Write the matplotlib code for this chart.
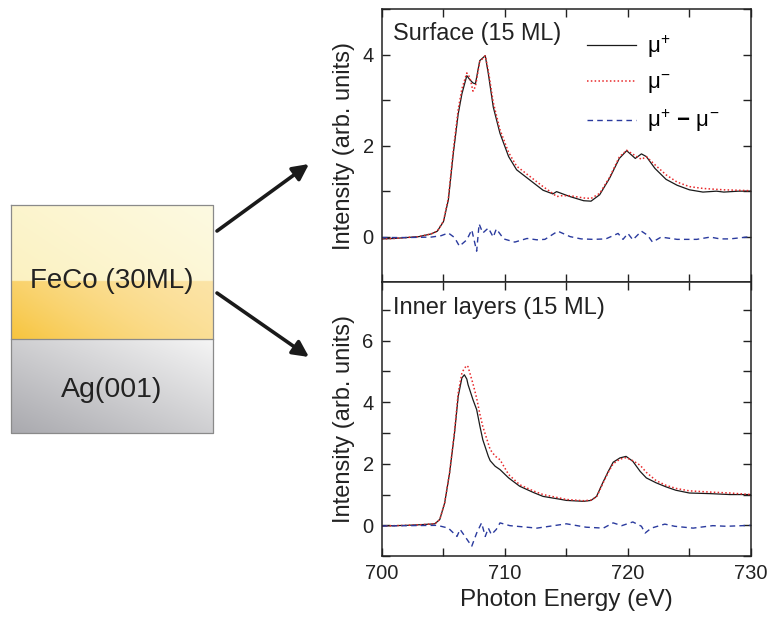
import numpy as np
import matplotlib
matplotlib.use("Agg")
import matplotlib.pyplot as plt
from matplotlib.ticker import MultipleLocator

plt.rcParams['font.family'] = ['Liberation Sans', 'DejaVu Sans']
plt.rcParams['mathtext.fontset'] = 'custom'
plt.rcParams['mathtext.rm'] = 'Liberation Sans'
plt.rcParams['mathtext.it'] = 'Liberation Sans'
plt.rcParams['mathtext.bf'] = 'Liberation Sans:bold'

# ---- data ----
# surface (15 ML)
e_top = [700, 701, 702, 703, 704, 704.5, 705, 705.4, 705.8, 706.2, 706.5, 706.9,
         707.15, 707.4, 707.6, 707.95, 708.4, 708.65, 709.05, 709.6, 710.3, 710.95,
         712.0, 713.1, 713.9, 714.2, 714.6, 715.3, 716.4, 717.0, 717.7, 718.5, 719.3,
         719.9, 720.6, 721.1, 721.5, 722.2, 723.1, 724.0, 725.0, 726.1, 727.2, 727.8,
         729.0, 730.0]
mu_plus_top = [-0.05, -0.04, -0.02, 0.0, 0.06, 0.12, 0.33, 0.81, 1.83, 2.7, 3.14, 3.54,
               3.45, 3.38, 3.36, 3.87, 3.98, 3.58, 2.85, 2.27, 1.76, 1.47,
               1.25, 1.02, 0.94, 0.99, 0.95, 0.88, 0.79, 0.78, 0.92, 1.28, 1.72,
               1.89, 1.72, 1.82, 1.76, 1.5, 1.26, 1.13, 1.03, 0.98, 1.0, 0.98,
               1.0, 1.0]
mu_minus_top = [-0.05, -0.04, -0.02, 0.0, 0.06, 0.12, 0.34, 0.85, 1.9, 2.8, 3.25, 3.6,
                3.5, 3.2, 3.3, 3.85, 3.98, 3.65, 2.95, 2.35, 1.85, 1.55,
                1.33, 1.1, 0.95, 0.88, 0.9, 0.9, 0.85, 0.84, 0.95, 1.3, 1.75,
                1.9, 1.78, 1.7, 1.76, 1.58, 1.36, 1.2, 1.1, 1.06, 1.04, 1.03,
                1.02, 1.01]
e_top_diff = [700, 702, 704, 704.8, 705.4, 705.9, 706.3, 706.9, 707.3, 707.7, 707.9,
              708.2, 708.65, 709.05, 709.3, 709.9, 710.8, 711.8, 712.6, 713.25, 714.3,
              715.3, 716.2, 717.2, 718.2, 719.2, 719.6, 720.0, 720.4, 721.1, 721.6,
              722.0, 722.7, 724.0, 725.6, 726.7, 727.5, 728.3, 730]
diff_top = [-0.02, -0.02, -0.01, 0.02, 0.08, -0.02, -0.21, -0.07, 0.15, -0.32, 0.28,
            0.08, 0.19, -0.01, 0.17, -0.05, -0.12, -0.04, -0.07, -0.06, 0.12,
            0.0, -0.05, -0.06, -0.05, 0.07, -0.06, 0.07, -0.07, 0.12, 0.03,
            -0.12, -0.01, -0.06, -0.06, -0.01, -0.05, -0.05, 0.0]

# inner layers (15 ML)
e_bot = [700, 702, 703.1, 704.3, 704.7, 705.1, 705.5, 705.9, 706.2, 706.5, 706.7, 706.9,
         707.0, 707.4, 707.7, 707.97, 708.2, 708.65, 708.8, 709.2, 709.6, 710.3, 711.2,
         712.3, 713.1, 714.3, 715.0, 716.4, 717.0, 717.45, 717.95, 718.4, 718.8,
         719.35, 719.85, 720.4, 721.0, 721.5, 722.3, 723.1, 723.9, 725.0, 726.7,
         728.3, 730]
mu_plus_bot = [-0.02, 0.0, 0.02, 0.05, 0.19, 0.73, 1.7, 3.0, 4.19, 4.79, 4.89, 4.75,
               4.57, 4.08, 3.76, 3.21, 2.78, 2.24, 2.1, 1.92, 1.81, 1.54, 1.27,
               1.07, 0.94, 0.86, 0.81, 0.78, 0.81, 0.94, 1.38, 1.75, 2.05,
               2.19, 2.24, 2.08, 1.75, 1.54, 1.38, 1.25, 1.14, 1.05, 1.03,
               1.0, 1.0]
mu_minus_bot = [-0.02, 0.0, 0.02, 0.05, 0.19, 0.73, 1.72, 3.05, 4.3, 4.95, 5.1, 5.19,
                5.15, 4.6, 4.13, 3.6, 3.21, 2.65, 2.46, 2.25, 2.13, 1.65, 1.32,
                1.12, 1.0, 0.9, 0.84, 0.8, 0.82, 0.92, 1.35, 1.72, 2.0,
                2.15, 2.2, 2.1, 1.95, 1.72, 1.45, 1.3, 1.2, 1.12, 1.08,
                1.05, 1.0]
e_bot_diff = [700, 702, 704.5, 705.4, 706.1, 706.35, 706.75, 707.3, 707.7, 708.1, 708.4,
              708.65, 708.9, 709.3, 709.6, 710.4, 712.6, 715.0, 716.6, 718.0, 718.8,
              719.5, 720.4, 721.1, 721.4, 721.9, 723.0, 723.8, 725.3, 726.9, 728.0, 730]
diff_bot = [-0.02, -0.01, 0.0, -0.09, -0.36, -0.13, -0.36, -0.68, -0.25, 0.08, -0.36,
            -0.09, -0.3, -0.13, 0.08, -0.01, -0.09, 0.05, -0.06, -0.09, 0.08,
            -0.01, 0.11, -0.03, -0.25, -0.09, 0.04, -0.03, -0.09, -0.01, -0.03, 0.0]

panel_titles = ["Surface (15 ML)", "Inner layers (15 ML)"]
legend_labels = [r"$\mu^{+}$", r"$\mu^{-}$", r"$\mu^{+}$ $\mathbf{-}$ $\mu^{-}$"]
layer_names = ["FeCo (30ML)", "Ag(001)"]

TXT = '#222222'


def diag_t(n=240):
    # 0 in the top-right corner, 1 in the bottom-left one
    yy, xx = np.mgrid[0:1:n * 1j, 0:1:n * 1j]
    return np.clip((yy + (1 - xx)) / 2, 0, 1)[..., None], yy


def blend(t, c_tr, c_bl):
    c0 = np.array(matplotlib.colors.to_rgb(c_tr))
    c1 = np.array(matplotlib.colors.to_rgb(c_bl))
    return (1 - t) * c0 + t * c1


fig = plt.figure(figsize=(7.67, 6.2), dpi=100)

# ---- schematic of the sample on the left ----
sk = fig.add_axes([0, 0, 1, 1])
sk.axis('off')
t, yy = diag_t()
upper = blend(t, '#fdfae2', '#fbefb8')
lower = blend(t ** 2.2, '#fce6ae', '#f7c43c')
split = (281 - 205) / (339 - 205)
feco = np.where(yy[..., None] < split, upper, lower)
sk.imshow(feco, extent=(11, 213, 339, 205), aspect='auto', interpolation='bilinear')
ag = blend(t, '#f5f5f5', '#a9a9ae')
sk.imshow(ag, extent=(11, 213, 433, 339), aspect='auto', interpolation='bilinear')
sk.plot([11, 213, 213, 11, 11], [205, 205, 433, 433, 205], color='#8a8a8a', lw=0.9)
sk.plot([11, 213], [339, 339], color='#8a8a8a', lw=0.9)
sk.text(112, 288, layer_names[0], ha='center', va='baseline', fontsize=20, color=TXT)
sk.text(112, 397, layer_names[1], ha='center', va='baseline', fontsize=20.5, color=TXT)
for start, tip in [((217, 231), (309, 164)), ((217, 293), (309, 357))]:
    sk.annotate('', xy=tip, xytext=start,
                arrowprops=dict(arrowstyle='-|>', lw=2.6, color='#1a1a1a',
                                mutation_scale=24, shrinkA=0, shrinkB=0))
sk.set_xlim(0, 767)
sk.set_ylim(620, 0)

# ---- the two spectra ----
ax_top = fig.add_axes([0.498, 0.545, 0.481, 0.440])
ax_bot = fig.add_axes([0.498, 0.103, 0.481, 0.442])

panels = [
    (ax_top, e_top, mu_plus_top, mu_minus_top, e_top_diff, diff_top, (-1, 5)),
    (ax_bot, e_bot, mu_plus_bot, mu_minus_bot, e_bot_diff, diff_bot, (-1, 7.9)),
]
for i, (ax, e, mp, mm, ed, d, ylim) in enumerate(panels):
    l1, = ax.plot(e, mp, color='#1a1a1a', lw=0.9)
    l2, = ax.plot(e, mm, color='#e8282a', lw=1.1, linestyle=(0, (1, 1.5)))
    l3, = ax.plot(ed, d, color='#2a3a9e', lw=1.0, linestyle=(0, (4, 3)))
    ax.set_xlim(700, 730)
    ax.set_ylim(*ylim)
    ax.xaxis.set_major_locator(MultipleLocator(10))
    ax.xaxis.set_minor_locator(MultipleLocator(5))
    ax.yaxis.set_major_locator(MultipleLocator(2))
    ax.yaxis.set_minor_locator(MultipleLocator(1))
    ax.tick_params(which='both', direction='in', top=True, right=True, length=6,
                   labelsize=14.5, width=1.0, pad=6, colors=TXT)
    for s in ax.spines.values():
        s.set_linewidth(1.1)
        s.set_color(TXT)
    ax.set_ylabel("Intensity (arb. units)", fontsize=17, color=TXT, labelpad=5)
    ax.text(0.03, 0.91 if i == 0 else 0.905, panel_titles[i], transform=ax.transAxes,
            fontsize=17 if i else 16.8, va='center', ha='left', color=TXT)
    if i == 0:
        ax.tick_params(labelbottom=False)
        ax.legend([l1, l2, l3], legend_labels, loc='upper right', frameon=False,
                  fontsize=16, handlelength=2.2, labelspacing=0.55, handletextpad=0.5,
                  borderaxespad=0.0, bbox_to_anchor=(0.94, 0.945))

ax_bot.set_xlabel("Photon Energy (eV)", fontsize=17.5, color=TXT, labelpad=4)

fig.savefig("out.png", dpi=100)
